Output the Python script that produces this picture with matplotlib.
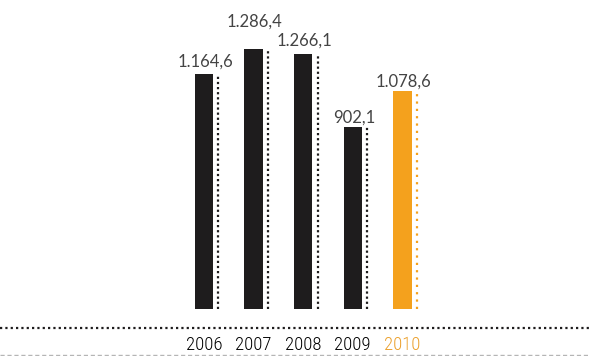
import matplotlib
matplotlib.use("Agg")
import matplotlib.pyplot as plt
import matplotlib.transforms as mtransforms
from matplotlib import font_manager

# Data
years = ["2006", "2007", "2008", "2009", "2010"]
values = [1164.6, 1286.4, 1266.1, 902.1, 1078.6]
value_labels = ["1.164,6", "1.286,4", "1.266,1", "902,1", "1.078,6"]

# vertical gap (points) between each bar top and its label baseline
label_gaps = [5.0, 16.5, 5.5, 3.0, 3.5]

BLACK = "#1e1c1d"
ORANGE = "#f4a11d"
ORANGE_TEXT = "#eba02c"
GRAY_TEXT = "#444444"

# prefer a narrow sans for the year row when one is installed
names = {f.name for f in font_manager.fontManager.ttflist}
year_font = {"family": ["Liberation Sans"], "fontsize": 12}
if "Liberation Sans Narrow" in names:
    year_font = {"family": ["Liberation Sans Narrow"], "fontsize": 12.5}
elif "Roboto Condensed" in names:
    year_font = {"family": ["Roboto Condensed"], "fontsize": 13.5,
                 "fontweight": "light"}

fig = plt.figure(figsize=(5.9, 3.56), dpi=100)
ax = fig.add_axes([0, 0, 1, 1])
ax.axis("off")

x = list(range(len(years)))
colors = [BLACK] * 4 + [ORANGE]

ax.bar(x, values, width=0.373, color=colors, linewidth=0)

# dotted companion lines to the right of each bar
for xi, v, c in zip(x, values, colors):
    ls = (0, (1, 1.3)) if c == BLACK else (0, (1, 2.3))
    ax.vlines(xi + 0.29, 0, v, colors=c, linestyles=ls, linewidth=1.6)

# value labels above bars
for xi, v, lab, gap in zip(x, values, value_labels, label_gaps):
    ax.annotate(lab, (xi + 0.02, v), xytext=(0, gap), textcoords="offset points",
                ha="center", va="baseline", fontsize=12, color=GRAY_TEXT,
                family=["Lato", "DejaVu Sans"])

# axis scale: value 0 sits 47 px above the bottom edge, 0.2018 px per unit
ax.set_xlim(-204 / 49.6, (590 - 204) / 49.6)
ax.set_ylim(-47 / 0.2018, (356 - 47) / 0.2018)

# baseline rules
ax.plot([0, 1], [28 / 356, 28 / 356], transform=ax.transAxes, color=BLACK,
        linewidth=1.6, linestyle=(0, (1, 1.4)), clip_on=False)
ax.plot([0, 1], [1.5 / 356, 1.5 / 356], transform=ax.transAxes, color="#b5b5b5",
        linewidth=1.0, linestyle=(0, (3, 2)), clip_on=False)

# year labels
trans = mtransforms.blended_transform_factory(ax.transData, ax.transAxes)
for xi, yr in zip(x, years):
    col = ORANGE_TEXT if yr == "2010" else "#000000"
    ax.text(xi, 6 / 356, yr, transform=trans, ha="center", va="baseline",
            color=col, **year_font)

fig.savefig("out.png", dpi=100)
